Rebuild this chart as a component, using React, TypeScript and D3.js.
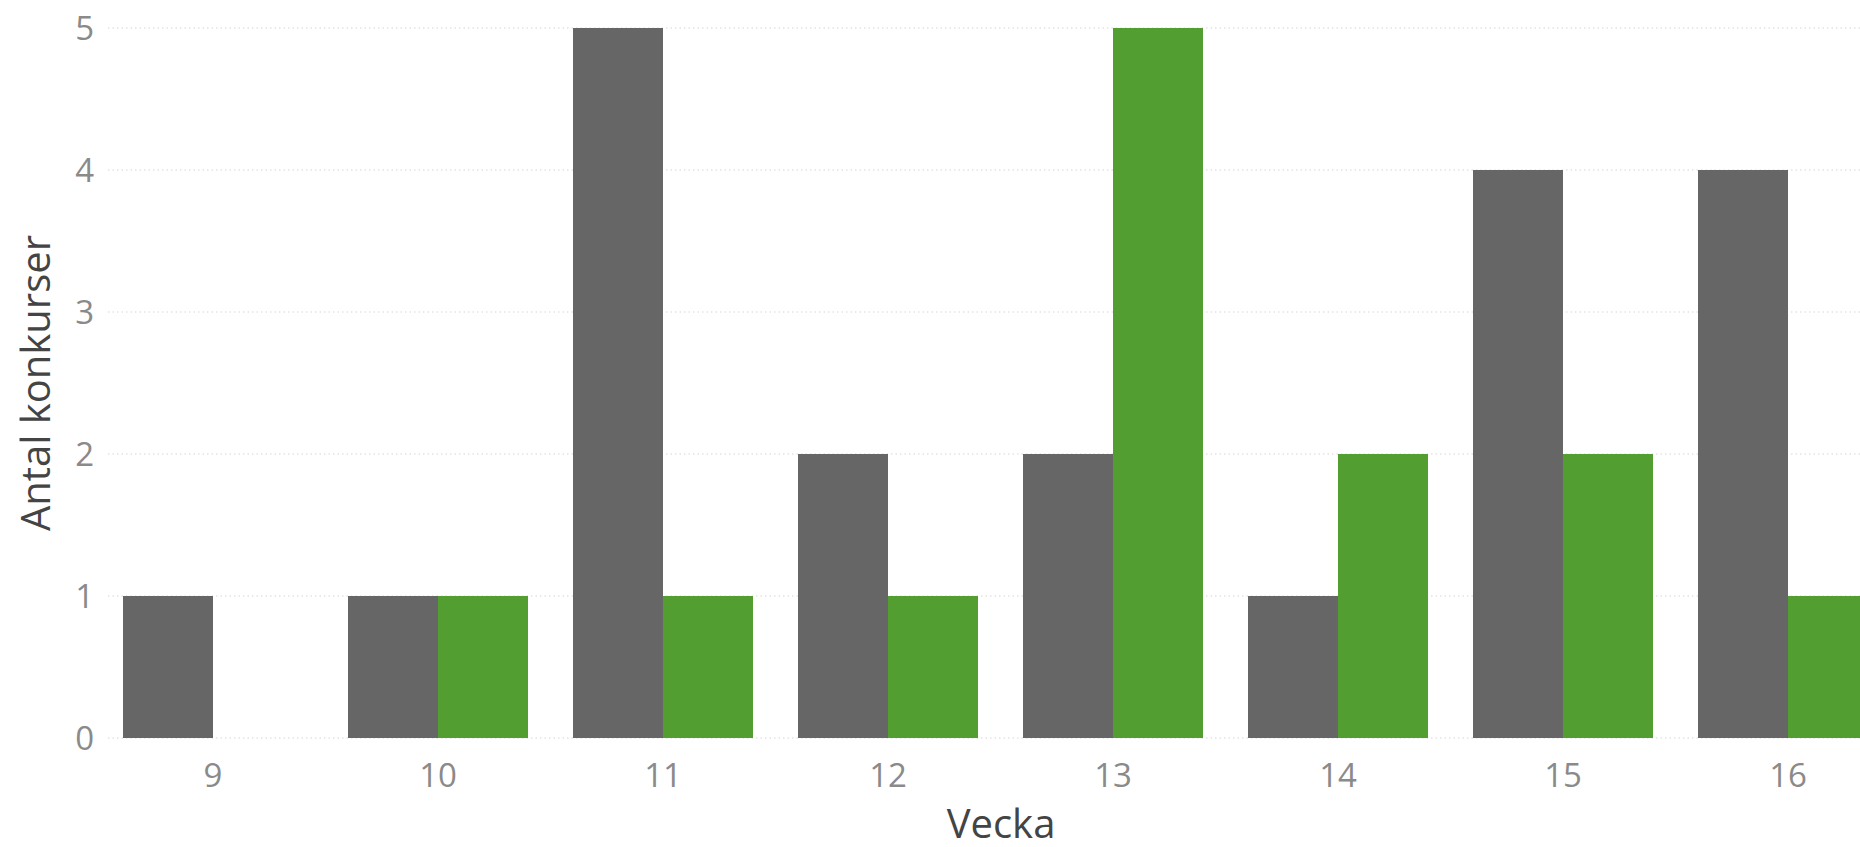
import React from "react";
import * as d3 from "d3";

const weeks: string[] = ["9", "10", "11", "12", "13", "14", "15", "16"];
const seriesGray: number[] = [1, 1, 5, 2, 2, 1, 4, 4];
const seriesGreen: number[] = [0, 1, 1, 1, 5, 2, 2, 1];
const yTicks: number[] = [0, 1, 2, 3, 4, 5];
const xTitle = "Vecka";
const yTitle = "Antal konkurser";

const W = 1860;
const H = 847;

export default function App() {
  const x = d3
    .scaleBand<string>()
    .domain(weeks)
    .range([100.5, 1900.5])
    .paddingInner(0.2)
    .paddingOuter(0.1);
  const sub = d3
    .scaleBand<string>()
    .domain(["gray", "green"])
    .range([0, x.bandwidth()]);
  const y = d3.scaleLinear().domain([0, 5]).range([738, 28]);

  const font = "'Open Sans', 'Noto Sans', sans-serif";

  return (
    <svg
      width={W}
      height={H}
      style={{ position: "absolute", left: 0, top: 0, display: "block", background: "#fff" }}
    >
      {yTicks.map((t) => (
        <line
          key={"g" + t}
          x1={108}
          x2={W}
          y1={y(t)}
          y2={y(t)}
          stroke="#e4e4e4"
          strokeWidth={1.5}
          strokeDasharray="1.5 3"
        />
      ))}
      {weeks.map((w, i) => (
        <g key={"b" + w} transform={`translate(${x(w)},0)`}>
          {seriesGray[i] > 0 && (
            <rect
              x={sub("gray")}
              y={y(seriesGray[i])}
              width={sub.bandwidth()}
              height={y(0) - y(seriesGray[i])}
              fill="#666666"
            />
          )}
          {seriesGreen[i] > 0 && (
            <rect
              x={sub("green")}
              y={y(seriesGreen[i])}
              width={sub.bandwidth()}
              height={y(0) - y(seriesGreen[i])}
              fill="#529e30"
            />
          )}
        </g>
      ))}
      {yTicks.map((t) => (
        <text
          key={"yt" + t}
          x={94}
          y={y(t)}
          dy="0.36em"
          textAnchor="end"
          fontFamily={font}
          fontSize={33}
          fill="#8a8a8a"
        >
          {t}
        </text>
      ))}
      {weeks.map((w) => (
        <text
          key={"xt" + w}
          x={(x(w) as number) + x.bandwidth() / 2}
          y={787}
          textAnchor="middle"
          fontFamily={font}
          fontSize={33}
          fill="#8a8a8a"
        >
          {w}
        </text>
      ))}
      <text
        x={1001}
        y={838}
        textAnchor="middle"
        fontFamily={font}
        fontSize={40}
        fill="#444444"
      >
        {xTitle}
      </text>
      <text
        transform="translate(50,383) rotate(-90)"
        textAnchor="middle"
        fontFamily={font}
        fontSize={40}
        fill="#444444"
      >
        {yTitle}
      </text>
    </svg>
  );
}
